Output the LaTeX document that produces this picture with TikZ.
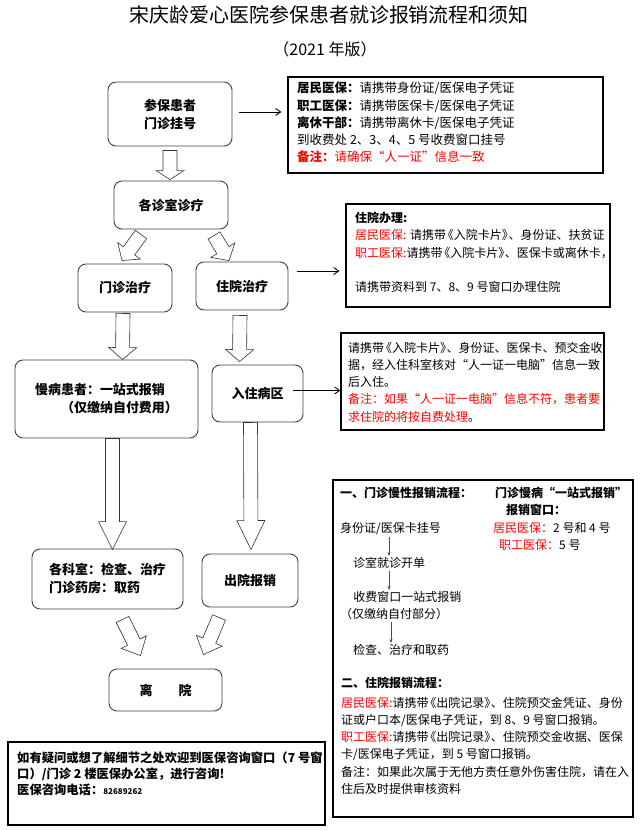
\documentclass[tikz,border=0pt]{standalone}
\usepackage{fontspec}
\setmainfont{Noto Sans CJK SC}
\usetikzlibrary{arrows.meta,calc}

\tikzset{
  stepbox/.style={draw=black!75, rounded corners=8pt, line width=0.9pt, align=center, inner sep=2pt,
    font=\bfseries\fontsize{13}{18}\selectfont},
  notebox/.style={draw=black, line width=1.2pt},
  notetext/.style={anchor=north west, align=left, inner sep=0pt, font=\fontsize{12}{17.2}\selectfont},
  thinline/.style={-{Straight Barb[length=5pt,width=7pt]}, line width=0.9pt},
  smallline/.style={-{Stealth[length=4pt,width=3pt]}, line width=0.6pt, black!70, shorten <=2pt, shorten >=1pt},
  fatline/.style={draw=black!80, fill=white, line width=0.6pt, line join=miter}
}

% block arrow: [head length] {tail} {tip}
\newcommand{\fatarrow}[3][12]{%
  \coordinate (fa-t) at #2;
  \coordinate (fa-h) at #3;
  \coordinate (fa-m) at ($(fa-h)!#1pt!(fa-t)$);
  \draw[fatline] ($(fa-t)!7pt!90:(fa-h)$) -- ($(fa-m)!7pt!90:(fa-h)$) -- ($(fa-m)!14pt!90:(fa-h)$)
    -- (fa-h) -- ($(fa-m)!14pt!-90:(fa-h)$) -- ($(fa-m)!7pt!-90:(fa-h)$) -- ($(fa-t)!7pt!-90:(fa-h)$) -- cycle;
}
% book title marks, set tight
\newcommand{\shu}[1]{\kern-.35em《#1》\kern-.45em}

\begin{document}
\begin{tikzpicture}[x=1pt,y=-1pt]
\fill[white] (0,0) rectangle (644,831);
\useasboundingbox (0,0) rectangle (644,831);
% Title
\node (title) at (329,15) {\fontsize{20}{24}\selectfont 宋庆龄爱心医院参保患者就诊报销流程和须知};
\node (year) at (325,49) {\fontsize{16}{20}\selectfont （2021 年版）};
% Flow boxes
\node[stepbox, minimum width=124pt, minimum height=64pt] (reg) at (170,114) {参保患者\\门诊挂号};
\node[stepbox, minimum width=114pt, minimum height=48pt] (diag) at (171,205) {各诊室诊疗};
\node[stepbox, minimum width=94pt, minimum height=48pt] (outp) at (125,288) {门诊治疗};
\node[stepbox, minimum width=92pt, minimum height=48pt] (inp) at (242,286) {住院治疗};
\node[stepbox, minimum width=183pt, minimum height=78pt, align=left] (chronic) at (106.5,399) {慢病患者：一站式报销\\\hspace*{2em}（仅缴纳自付费用）};
\node[stepbox, minimum width=91pt, minimum height=57pt] (ward) at (257.5,393.5) {入住病区};
\node[stepbox, minimum width=151pt, minimum height=60pt, align=left] (exam) at (107.5,579) {各科室：检查、治疗\\门诊药房：取药};
\node[stepbox, minimum width=96pt, minimum height=53pt] (disch) at (250,580.5) {出院报销};
\node[stepbox, minimum width=113pt, minimum height=42pt] (leave) at (165.5,690) {离\hspace{2em}院};
% Block arrows
\fatarrow[9]{($(reg.south)+(0,4)$)}{($(diag.north)+(-1,-1)$)}
\fatarrow[12]{($(diag.south)+(-30,5)$)}{($(outp.north)+(-3,-3)$)}
\fatarrow[12]{($(diag.south)+(43,6)$)}{($(inp.north)+(-13,-1)$)}
\fatarrow[12]{($(outp.south)+(-2,1)$)}{($(chronic.north)+(16,0)$)}
\fatarrow[12]{($(inp.south)+(-2,5)$)}{($(ward.north)+(-18,-3)$)}
\fatarrow[28]{($(chronic.south)+(6,0)$)}{($(exam.north)+(5,1)$)}
\fatarrow[29]{($(ward.south)+(-7,0)$)}{($(disch.north)+(1,-4)$)}
\fatarrow[15]{($(exam.south)+(15,10)$)}{($(leave.north)+(-25,-13)$)}
\fatarrow[15]{($(disch.south)+(-31,10)$)}{($(leave.north)+(38,-14)$)}
% Note boxes
\node[notebox, minimum width=315pt, minimum height=96pt] (note1) at (445.5,125) {};
\node[notebox, minimum width=264pt, minimum height=103pt] (note2) at (478,255.5) {};
\node[notebox, minimum width=263pt, minimum height=97pt] (note3) at (472.5,381.5) {};
\node[notebox, minimum width=300pt, minimum height=337pt] (note4) at (483,648.5) {};
\node[notebox, minimum width=317pt, minimum height=83pt] (phone) at (166.5,783.5) {};
% Thin arrows to the notes
\draw[thinline] ($(reg.east)+(7,-2)$) -- ($(reg.east -| note1.west)+(-6,-2)$);
\draw[thinline] ($(inp.east)+(9,-15)$) -- ($(inp.east -| note2.west)+(-6,-15)$);
\draw[thinline] ($(ward.east)+(-10,-3)$) -- ($(ward.east -| note3.west)+(0,-3)$);
% Note texts
\node[notetext, font=\fontsize{12.5}{17.2}\selectfont] (note1txt) at (297,82) {%
  \textbf{居民医保：}请携带身份证/医保电子凭证\\
  \textbf{职工医保：}请携带医保卡/医保电子凭证\\
  \textbf{离休干部：}请携带离休卡/医保电子凭证\\
  到收费处 2、3、4、5 号收费窗口挂号\\
  \textcolor{red}{\textbf{备注：}请确保“人一证”信息一致}};
\node[notetext] (note2txt) at (355,212) {%
  \textbf{住院办理:}\\
  \textcolor{red}{居民医保:} 请携带\shu{入院卡片}、身份证、扶贫证\\
  \textcolor{red}{职工医保:}请携带\shu{入院卡片}、医保卡或离休卡，\\[17.2pt]
  请携带资料到 7、8、9 号窗口办理住院};
\node[notetext] (note3txt) at (348,342) {%
  请携带\shu{入院卡片}、身份证、医保卡、预交金收\\
  据，经入住科室核对“人一证一电脑”信息一致\\
  后入住。\\
  \textcolor{red}{备注：如果“人一证一电脑”信息不符，患者要}\\
  \textcolor{red}{求住院的将按自费处理}。};
% Outpatient steps
\node[notetext, font=\bfseries\fontsize{12}{17}\selectfont] (sec1) at (340,487) {一、门诊慢性报销流程：};
\node[notetext, font=\bfseries\fontsize{12}{17}\selectfont] (win) at (495,487) {门诊慢病“一站式报销”\\\hspace*{0.9em}报销窗口：};
\node[notetext] (winno) at (493,522) {\textcolor{red}{居民医保：}2 号和 4 号\\\hspace*{0.5em}\textcolor{red}{职工医保：}5 号};
\node[notetext] (s1) at (340,522) {身份证/医保卡挂号};
\node[notetext] (s2) at (353,557) {诊室就诊开单};
\node[notetext] (s3) at (340,591) {\hspace*{1.1em}收费窗口一站式报销\\（仅缴纳自付部分）};
\node[notetext] (s4) at (353,644) {检查、治疗和取药};
\coordinate (ax) at (389,0);
\draw[smallline] (s1.south -| ax) -- (s2.north -| ax);
\draw[smallline] (s2.south -| ax) -- (s3.north -| ax);
\draw[smallline] ($(s3.south -| ax)+(2,0)$) -- ($(s4.north -| ax)+(2,0)$);
% Inpatient reimbursement
\node[notetext, font=\bfseries\fontsize{12}{17}\selectfont] (sec2) at (341,677) {二、住院报销流程：};
\node[notetext] (sec2txt) at (341,697) {%
  \textcolor{red}{居民医保:}请携带\shu{出院记录}、住院预交金凭证、身份\\
  证或户口本/医保电子凭证，到 8、9 号窗口报销。\\
  \textcolor{red}{职工医保:}请携带\shu{出院记录}、住院预交金收据、医保\\
  卡/医保电子凭证，到 5 号窗口报销。\\
  备注：如果此次属于无他方责任意外伤害住院，请在入\\
  住后及时提供审核资料};
% Contact
\node[notetext, font=\bfseries\fontsize{12.3}{16}\selectfont] (phonetxt) at (17,752) {%
  如有疑问或想了解细节之处欢迎到医保咨询窗口（7 号窗\\
  口）/门诊 2 楼医保办公室，进行咨询!\\
  医保咨询电话：{\fontsize{8}{16}\selectfont 82689262}};
\end{tikzpicture}
\end{document}
